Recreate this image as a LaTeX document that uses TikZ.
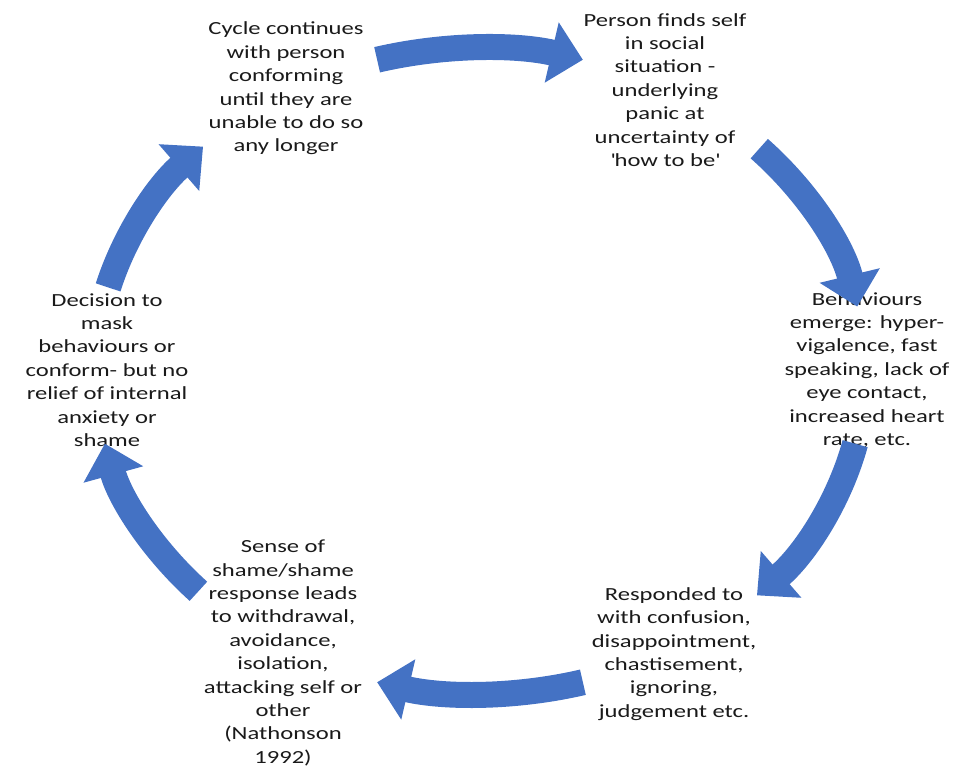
\documentclass[tikz,border=0pt]{standalone}
\usepackage{fontspec}
\setmainfont{Carlito}[FakeStretch=1.33]
\usetikzlibrary{arrows.meta,calc}
\definecolor{arrowblue}{HTML}{4472C4}
\definecolor{txt}{HTML}{1A1A1A}
\tikzset{
  lbl/.style={align=center, inner sep=0pt, text=txt, font=\fontsize{18.5pt}{23.4pt}\selectfont},
  blockarrow/.style={draw=arrowblue, line width=26pt, line cap=butt,
    -{Triangle[width=60pt,length=32pt]}},
}
\begin{document}
\begin{tikzpicture}[x=1pt,y=1pt]
\useasboundingbox (0,0) rectangle (953,771);
\coordinate (C) at (480,400);
\node[lbl] (n1) at (286,682.5) {Cycle continues\\with person\\conforming\\until they are\\unable to do so\\any longer};
\node[lbl] (n2) at (665,681) {Person finds self\\in social\\situation -\\underlying\\panic at\\uncertainty of\\\textquotesingle how to be\textquotesingle};
\node[lbl] (n3) at (867,401) {Behaviours\\emerge: hyper-\\vigalence, fast\\speaking, lack of\\eye contact,\\increased heart\\rate, etc.};
\node[lbl] (n4) at (674,117) {Responded to\\with confusion,\\disappointment,\\chastisement,\\ignoring,\\judgement etc.};
\node[lbl] (n5) at (283,118) {Sense of\\shame/shame\\response leads\\to withdrawal,\\avoidance,\\isolation,\\attacking self or\\other\\(Nathonson\\1992)};
\node[lbl] (n6) at (107,401) {Decision to\\mask\\behaviours or\\conform- but no\\relief of internal\\anxiety or\\shame};
% block arrows along the cycle
\draw[blockarrow] ($(C)+(105.5:385pt and 323pt)$) arc[start angle=105.5, end angle=74.5, x radius=385pt, y radius=323pt];
\draw[blockarrow] ($(C)+(43.5:385pt and 323pt)$) arc[start angle=43.5, end angle=11.5, x radius=385pt, y radius=323pt];
\draw[blockarrow] ($(C)+(-13:385pt and 323pt)$) arc[start angle=-13, end angle=-44, x radius=385pt, y radius=323pt];
\draw[blockarrow] ($(C)+(-74.5:385pt and 323pt)$) arc[start angle=-74.5, end angle=-105.5, x radius=385pt, y radius=323pt];
\draw[blockarrow] ($(C)+(-137:385pt and 323pt)$) arc[start angle=-137, end angle=-167, x radius=385pt, y radius=323pt];
\draw[blockarrow] ($(C)+(165:385pt and 323pt)$) arc[start angle=165, end angle=136, x radius=385pt, y radius=323pt];
\end{tikzpicture}
\end{document}
